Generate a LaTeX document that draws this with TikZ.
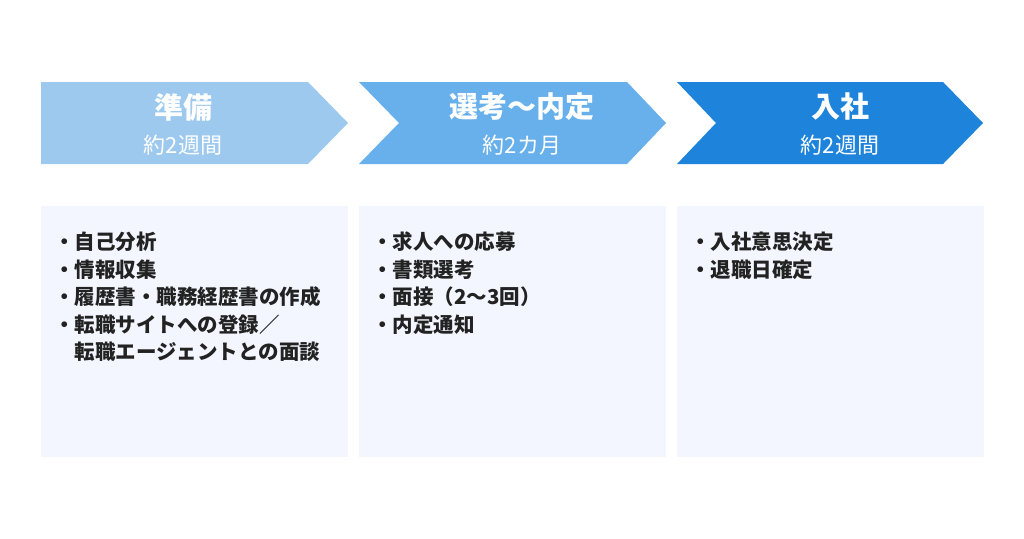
\documentclass[tikz,border=0pt]{standalone}
\usepackage{fontspec}
\setmainfont{Noto Sans CJK JP}
\definecolor{stepA}{HTML}{9DC9EF}
\definecolor{stepB}{HTML}{68B0EC}
\definecolor{stepC}{HTML}{1E83DB}
\definecolor{boxbg}{HTML}{F3F6FE}
\definecolor{bodytext}{HTML}{222222}
\begin{document}
\begin{tikzpicture}[x=1pt,y=-1pt]
        \tikzset{
            title/.style={font=\fontsize{29}{30}\selectfont\bfseries, text=white, inner sep=0},
            period/.style={font=\fontsize{22}{24}\selectfont, text=white, inner sep=0},
            todo/.style={font=\fontsize{20.5}{27.5}\selectfont\bfseries, text=bodytext,
                align=left, anchor=north west, inner sep=0}
        }
        \fill[white] (0,0) rectangle (1024,538);

        % arrows
        \fill[stepA] (41,82) -- (308,82) -- (348,123) -- (308,164) -- (41,164) -- cycle;
        \fill[stepB] (359,82) -- (627,82) -- (666,123) -- (627,164) -- (359,164) -- (399,123) -- cycle;
        \fill[stepC] (677,82) -- (943,82) -- (983,123) -- (943,164) -- (677,164) -- (716,123) -- cycle;

        \node[title] (prep) at (183,107) {準備};
        \node[title] (select) at (522,107) {選考〜内定};
        \node[title] (join) at (840,107) {入社};
        \node[period] (prep_time) at (183,145) {約2週間};
        \node[period] (select_time) at (522,145) {約2カ月};
        \node[period] (join_time) at (840,145) {約2週間};

        % boxes
        \foreach \x in {41,359,677}
            \fill[boxbg] (\x,206) rectangle ++(307,251);

        \node[todo] (prep_list) at (54,232) {・自己分析\\・情報収集\\・履歴書・職務経歴書の作成\\・転職サイトへの登録／\\\hspace*{1em}転職エージェントとの面談};
        \node[todo] (select_list) at (372,232) {・求人への応募\\・書類選考\\・面接（2〜3回）\\・内定通知};
        \node[todo] (join_list) at (690,232) {・入社意思決定\\・退職日確定};
    \end{tikzpicture}
\end{document}
